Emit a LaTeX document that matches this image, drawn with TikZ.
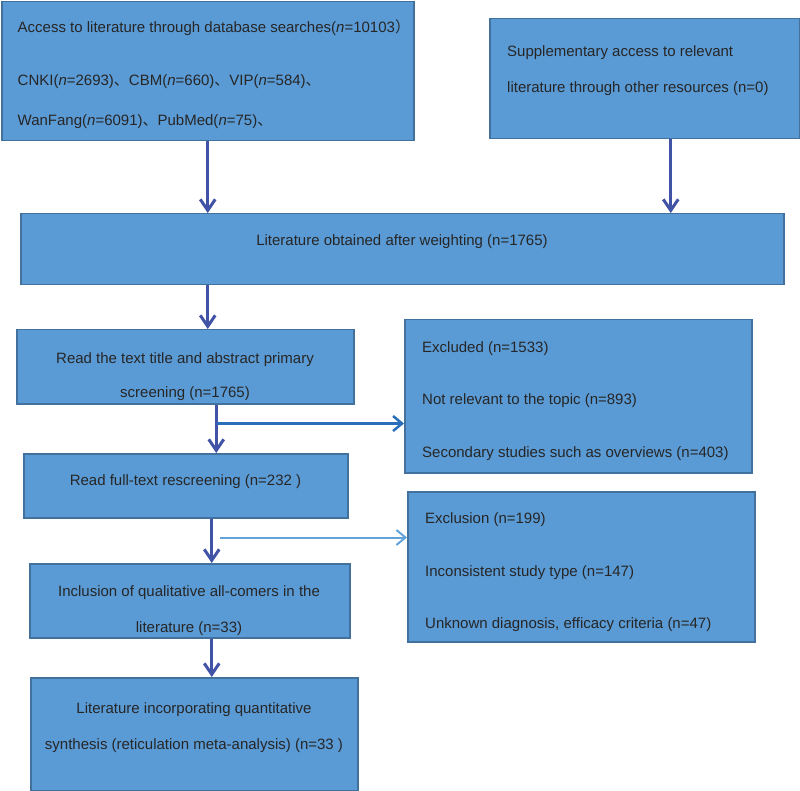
\documentclass[tikz,border=0pt]{standalone}
\usepackage{fontspec}
\setmainfont{Liberation Sans}
\newfontfamily\cjk{Noto Sans CJK SC}
\usepackage{tikz}
\usetikzlibrary{arrows.meta, calc}
\usepackage{xcolor}
\definecolor{boxfill}{RGB}{91,155,213}
\definecolor{boxline}{RGB}{65,113,156}
\definecolor{txtcol}{RGB}{38,38,38}
\definecolor{arrowcol}{RGB}{64,83,166}
\definecolor{sidedark}{RGB}{42,110,187}
\definecolor{sidelight}{RGB}{100,162,218}

\begin{document}
\begin{tikzpicture}[
    x=1pt, y=-1pt,
    box/.style={rectangle, draw=boxline, fill=boxfill, line width=1.5pt, anchor=north west, inner sep=0pt},
    txt/.style={text=txtcol, font=\fontsize{15}{18}\selectfont, inner sep=0pt},
    arrow/.style={-{Straight Barb[length=11pt, width=15pt]}, line width=3pt, draw=arrowcol},
    side/.style={-{Straight Barb[length=9pt, width=15pt]}, line width=2.5pt}
]
    \useasboundingbox (0,0) rectangle (800,791);

    % boxes
    \node[box, minimum width=412pt, minimum height=139pt] (search) at (1,1) {};
    \node[box, minimum width=310pt, minimum height=120pt] (other) at (489,18) {};
    \node[box, minimum width=763pt, minimum height=71pt] (dedup) at (20,213) {};
    \node[box, minimum width=337pt, minimum height=74pt] (primary) at (16,329) {};
    \node[box, minimum width=324pt, minimum height=64pt] (fulltext) at (23,453) {};
    \node[box, minimum width=320pt, minimum height=74pt] (qualit) at (29,563) {};
    \node[box, minimum width=327pt, minimum height=113pt] (quant) at (30,677) {};
    \node[box, minimum width=347pt, minimum height=153pt] (excl1) at (404,319) {};
    \node[box, minimum width=347pt, minimum height=150pt] (excl2) at (407,491) {};

    % texts (placed at the baseline of their last line)
    \node[txt, anchor=base west, align=left] (search-t) at (17.5,126)
        {Access to literature through database searches(\textit{n}=10103{\cjk ）}\\[35pt]
         CNKI(\textit{n}=2693){\cjk 、}CBM(\textit{n}=660){\cjk 、}VIP(\textit{n}=584){\cjk 、}\\[22pt]
         WanFang(\textit{n}=6091){\cjk 、}PubMed(\textit{n}=75){\cjk 、}};
    \node[txt, anchor=base west, align=left] (other-t) at (507,93)
        {Supplementary access to relevant\\[18pt] literature through other resources (n=0)};
    \node[txt, anchor=base] (dedup-t) at (402,246) {Literature obtained after weighting (n=1765)};
    \node[txt, anchor=base, align=center] (primary-t) at (185,397)
        {Read the text title and abstract primary\\[16pt] screening (n=1765)};
    \node[txt, anchor=base] (fulltext-t) at (185.5,485) {Read full-text rescreening (n=232 )};
    \node[txt, anchor=base, align=center] (qualit-t) at (189,632)
        {Inclusion of qualitative all-comers in the\\[18pt] literature (n=33)};
    \node[txt, anchor=base, align=center] (quant-t) at (194,749)
        {Literature incorporating quantitative\\[18pt] synthesis (reticulation meta-analysis) (n=33 )};
    \node[txt, anchor=base west, align=left] (excl1-t) at (422,457)
        {Excluded (n=1533)\\[34pt] Not relevant to the topic (n=893)\\[35pt] Secondary studies such as overviews (n=403)};
    \node[txt, anchor=base west, align=left] (excl2-t) at (425,628)
        {Exclusion (n=199)\\[35pt] Inconsistent study type (n=147)\\[34pt] Unknown diagnosis, efficacy criteria (n=47)};

    % split points
    \coordinate (b1) at ($(other.south)+(26,0)$);
    \coordinate (c1) at ($(primary.south)+(31,0)$);
    \coordinate (split1) at ($(c1)+(1,19)$);
    \coordinate (d1) at ($(fulltext.south)+(26,0)$);
    \coordinate (split2) at ($(d1)+(8,19)$);
    \coordinate (e1) at ($(qualit.south)+(22,0)$);

    \draw[arrow] (search.south) -- (search.south |- dedup.north);
    \draw[arrow] (b1) -- (b1 |- dedup.north);
    \draw[arrow] (dedup.south -| search.south) -- (search.south |- primary.north);
    \draw[arrow] (c1) -- (c1 |- fulltext.north);
    \draw[side, draw=sidedark] (split1) -- (split1 -| excl1.west);
    \draw[arrow] (d1) -- (d1 |- qualit.north);
    \draw[side, draw=sidelight, line width=2pt] (split2) -- (split2 -| excl2.west);
    \draw[arrow] (e1) -- (e1 |- quant.north);
\end{tikzpicture}
\end{document}
